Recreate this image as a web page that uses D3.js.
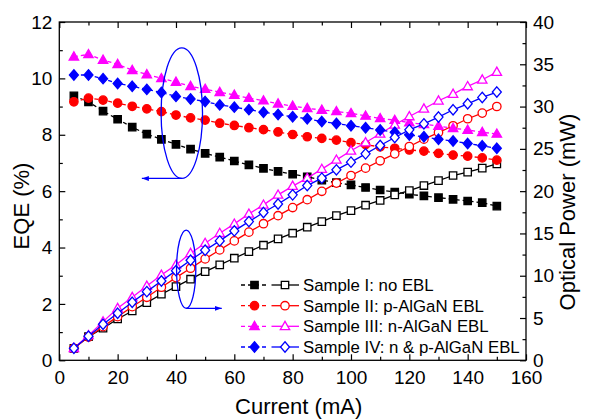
<!DOCTYPE html>
<html>
<head>
<meta charset="utf-8">
<script src="https://cdn.jsdelivr.net/npm/d3@7"></script>
<style>
  body { margin: 0; background: #fff; }
  text { font-family: "Liberation Sans", Arial, sans-serif; }
</style>
</head>
<body>
<svg width="589" height="420"></svg>
<script>
// ---- data ----
const current = [5, 10, 15, 20, 25, 30, 35, 40, 45, 50, 55, 60, 65, 70, 75,
  80, 85, 90, 95, 100, 105, 110, 115, 120, 125, 130, 135, 140, 145, 150];

// EQE (%) - filled markers, dashed lines
const eqeI = [9.38, 9.17, 8.84, 8.55, 8.27, 8.02, 7.84, 7.66, 7.49, 7.34, 7.21, 7.07, 6.93, 6.81, 6.70,
  6.60, 6.51, 6.39, 6.30, 6.22, 6.13, 6.04, 5.97, 5.89, 5.83, 5.77, 5.71, 5.65, 5.59, 5.47];
const eqeII = [9.17, 9.30, 9.23, 9.12, 9.01, 8.92, 8.82, 8.70, 8.60, 8.52, 8.41, 8.33, 8.25, 8.18, 8.10,
  8.01, 7.93, 7.87, 7.81, 7.72, 7.65, 7.57, 7.52, 7.46, 7.42, 7.34, 7.28, 7.24, 7.18, 7.10];
const eqeIII = [10.77, 10.85, 10.65, 10.50, 10.29, 10.14, 10.00, 9.87, 9.72, 9.62, 9.51, 9.41, 9.30, 9.21, 9.10,
  9.02, 8.94, 8.88, 8.83, 8.76, 8.67, 8.58, 8.52, 8.43, 8.37, 8.31, 8.23, 8.17, 8.09, 8.03];
const eqeIV = [10.12, 10.12, 9.99, 9.82, 9.72, 9.61, 9.50, 9.36, 9.27, 9.18, 9.06, 8.98, 8.89, 8.80, 8.72,
  8.64, 8.57, 8.47, 8.40, 8.32, 8.25, 8.17, 8.09, 7.99, 7.93, 7.84, 7.78, 7.69, 7.61, 7.52];

// Optical power (mW) - open markers, solid lines
const powI = [1.42, 2.79, 3.79, 4.89, 5.83, 6.82, 7.81, 8.71, 9.59, 10.49, 11.28, 12.07, 12.85, 13.61, 14.36,
  15.03, 15.74, 16.40, 17.11, 17.70, 18.34, 18.90, 19.56, 20.07, 20.66, 21.25, 21.85, 22.25, 22.72, 23.23];
const powII = [1.42, 2.75, 3.98, 5.16, 6.34, 7.45, 8.64, 9.78, 10.89, 11.99, 13.05, 14.12, 15.15, 16.15, 17.10,
  18.06, 18.99, 19.98, 20.95, 21.85, 22.72, 23.59, 24.41, 25.28, 26.15, 26.93, 27.73, 28.56, 29.23, 30.01];
const powIII = [1.42, 2.95, 4.57, 6.15, 7.45, 8.79, 10.09, 11.28, 12.66, 13.85, 15.03, 16.13, 17.31, 18.38, 19.56,
  20.60, 21.54, 22.60, 23.70, 24.77, 25.75, 26.78, 27.85, 28.83, 29.74, 30.69, 31.48, 32.38, 33.17, 34.08];
const powIV = [1.42, 2.85, 4.26, 5.56, 6.86, 8.12, 9.38, 10.60, 11.83, 13.02, 14.12, 15.30, 16.40, 17.47, 18.48,
  19.56, 20.66, 21.54, 22.52, 23.43, 24.41, 25.40, 26.34, 27.25, 27.96, 28.76, 29.62, 30.33, 31.08, 31.72];

const sampleNames = ["Sample I: no EBL", "Sample II: p-AlGaN EBL",
  "Sample III: n-AlGaN EBL", "Sample IV: n & p-AlGaN EBL"];
const eqeSeries = [eqeI, eqeII, eqeIII, eqeIV];
const powSeries = [powI, powII, powIII, powIV];

const xTicks = [0, 20, 40, 60, 80, 100, 120, 140, 160];
const xMinor = [10, 30, 50, 70, 90, 110, 130, 150];
const eqeTicks = [0, 2, 4, 6, 8, 10, 12];
const eqeMinor = [1, 3, 5, 7, 9, 11];
const powTicks = [0, 5, 10, 15, 20, 25, 30, 35, 40];
const powMinor = [2.5, 7.5, 12.5, 17.5, 22.5, 27.5, 32.5, 37.5];

// annotation ellipses (in data units)
const eqeRing = { cx: 42, rx: 7.1, top: 11.08, bottom: 6.45, arrowTo: 28.3 };
const powRing = { cx: 43.5, rx: 3.3, top: 15.4, bottom: 6.15, arrowTo: 55.7 };

// ---- styles ----
const COLORS = ["#000000", "#ff0000", "#ff00ff", "#0000ff"];
const SHAPES = ["square", "circle", "triangle", "diamond"];
const LINE_W = 1.3;
const DASH = "4,3";
const TICK_FONT = 19;

let svg = d3.select("svg");
const margin = { left: 59.3, top: 22, right: 526, bottom: 360.3 };

let x = d3.scaleLinear().domain([0, 160]).range([margin.left, margin.right]);
let yEqe = d3.scaleLinear().domain([0, 12]).range([margin.bottom, margin.top]);
let yPow = d3.scaleLinear().domain([0, 40]).range([margin.bottom, margin.top]);

// marker outlines, centred on 0,0
function markerPath(shape) {
  switch (shape) {
    case "square": return "M-3.7,-3.7H3.7V3.7H-3.7Z";
    case "circle": return d3.arc()({ innerRadius: 0, outerRadius: 4.2, startAngle: 0, endAngle: 2 * Math.PI });
    case "triangle": return "M0,-4.9L4.7,3.3L-4.7,3.3Z";
    case "diamond": return "M0,-5.2L4.5,0L0,5.2L-4.5,0Z";
  }
}

//////////// AXES ////////////
function styleAxis(g) {
  g.select(".domain").remove();
  g.selectAll("line").attr("stroke", "#000").attr("stroke-width", 1.2);
  g.selectAll("text").attr("font-size", TICK_FONT).attr("fill", "#000");
}

const h = margin.bottom - margin.top;
const w = margin.right - margin.left;

svg.append("g").attr("transform", `translate(0,${margin.bottom})`)
  .call(d3.axisBottom(x).tickValues(xTicks).tickSize(-6).tickPadding(10)).call(styleAxis);
svg.append("g").attr("transform", `translate(0,${margin.bottom})`)
  .call(d3.axisBottom(x).tickValues(xMinor).tickSize(-3.5).tickFormat("")).call(styleAxis);
svg.append("g").attr("transform", `translate(0,${margin.top})`)
  .call(d3.axisTop(x).tickValues(xTicks).tickSize(-6).tickFormat("")).call(styleAxis);
svg.append("g").attr("transform", `translate(0,${margin.top})`)
  .call(d3.axisTop(x).tickValues(xMinor).tickSize(-3.5).tickFormat("")).call(styleAxis);

svg.append("g").attr("transform", `translate(${margin.left},0)`)
  .call(d3.axisLeft(yEqe).tickValues(eqeTicks).tickSize(-6).tickPadding(7)).call(styleAxis);
svg.append("g").attr("transform", `translate(${margin.left},0)`)
  .call(d3.axisLeft(yEqe).tickValues(eqeMinor).tickSize(-3.5).tickFormat("")).call(styleAxis);

svg.append("g").attr("transform", `translate(${margin.right},0)`)
  .call(d3.axisRight(yPow).tickValues(powTicks).tickSize(-6).tickPadding(7)).call(styleAxis);
svg.append("g").attr("transform", `translate(${margin.right},0)`)
  .call(d3.axisRight(yPow).tickValues(powMinor).tickSize(-3.5).tickFormat("")).call(styleAxis);

svg.append("rect")
  .attr("x", margin.left).attr("y", margin.top)
  .attr("width", w).attr("height", h)
  .attr("fill", "none").attr("stroke", "#000").attr("stroke-width", 1.3);

// axis titles
svg.append("text")
  .attr("x", (margin.left + margin.right) / 2 + 6).attr("y", 414)
  .attr("text-anchor", "middle").attr("font-size", 22)
  .text("Current (mA)");
svg.append("text")
  .attr("transform", "translate(28.5,206) rotate(-90)")
  .attr("text-anchor", "middle").attr("font-size", 22)
  .text("EQE (%)");
svg.append("text")
  .attr("transform", "translate(575,212) rotate(-90)")
  .attr("text-anchor", "middle").attr("font-size", 22)
  .text("Optical Power (mW)");

//////////// SERIES ////////////
const plot = svg.append("g");

function drawSeries(values, yScale, i, filled) {
  const pts = current.map((c, k) => [x(c), yScale(values[k])]);
  plot.append("path")
    .attr("d", d3.line()(pts))
    .attr("fill", "none")
    .attr("stroke", COLORS[i])
    .attr("stroke-width", LINE_W)
    .attr("stroke-dasharray", filled ? DASH : null);
  plot.append("g").selectAll("path")
    .data(pts)
    .enter()
    .append("path")
    .attr("d", markerPath(SHAPES[i]))
    .attr("transform", (d) => `translate(${d[0]},${d[1]})`)
    .attr("fill", filled ? COLORS[i] : "#fff")
    .attr("stroke", COLORS[i])
    .attr("stroke-width", LINE_W);
}

eqeSeries.forEach((vals, i) => {
  drawSeries(vals, yEqe, i, true);
  drawSeries(powSeries[i], yPow, i, false);
});

//////////// ANNOTATIONS ////////////
svg.append("defs").append("marker")
  .attr("id", "arrowhead")
  .attr("viewBox", "0 0 10 10")
  .attr("refX", 10).attr("refY", 5)
  .attr("markerWidth", 7).attr("markerHeight", 7)
  .attr("markerUnits", "userSpaceOnUse")
  .attr("orient", "auto")
  .append("path")
  .attr("d", "M0,1.5L10,5L0,8.5Z")
  .attr("fill", "#0000ff");

function drawRing(r, yScale) {
  const cx = x(r.cx);
  const top = yScale(r.top), bottom = yScale(r.bottom);
  svg.append("ellipse")
    .attr("cx", cx).attr("cy", (top + bottom) / 2)
    .attr("rx", x(r.cx + r.rx) - cx).attr("ry", (bottom - top) / 2)
    .attr("fill", "none").attr("stroke", "#0000ff").attr("stroke-width", 1.3);
  svg.append("line")
    .attr("x1", cx).attr("y1", bottom)
    .attr("x2", x(r.arrowTo)).attr("y2", bottom)
    .attr("stroke", "#0000ff").attr("stroke-width", 1.3)
    .attr("marker-end", "url(#arrowhead)");
}
drawRing(eqeRing, yEqe);
drawRing(powRing, yPow);

//////////// LEGEND ////////////
const legendY = [285, 305.7, 326.3, 347];
const legend = svg.append("g");
sampleNames.forEach((name, i) => {
  const g = legend.append("g").attr("transform", `translate(0,${legendY[i]})`);
  g.append("line").attr("x1", 241).attr("x2", 268).attr("y1", 0).attr("y2", 0)
    .attr("stroke", COLORS[i]).attr("stroke-width", LINE_W).attr("stroke-dasharray", DASH);
  g.append("line").attr("x1", 271.5).attr("x2", 299).attr("y1", 0).attr("y2", 0)
    .attr("stroke", COLORS[i]).attr("stroke-width", LINE_W);
  g.append("path").attr("d", markerPath(SHAPES[i]))
    .attr("transform", "translate(254.5,0)")
    .attr("fill", COLORS[i]).attr("stroke", COLORS[i]).attr("stroke-width", LINE_W);
  g.append("path").attr("d", markerPath(SHAPES[i]))
    .attr("transform", "translate(285,0)")
    .attr("fill", "#fff").attr("stroke", COLORS[i]).attr("stroke-width", LINE_W);
  g.append("text").attr("x", 303).attr("y", 0).attr("dy", "0.35em")
    .attr("font-size", 16.8).text(name);
});
</script>
</body>
</html>
